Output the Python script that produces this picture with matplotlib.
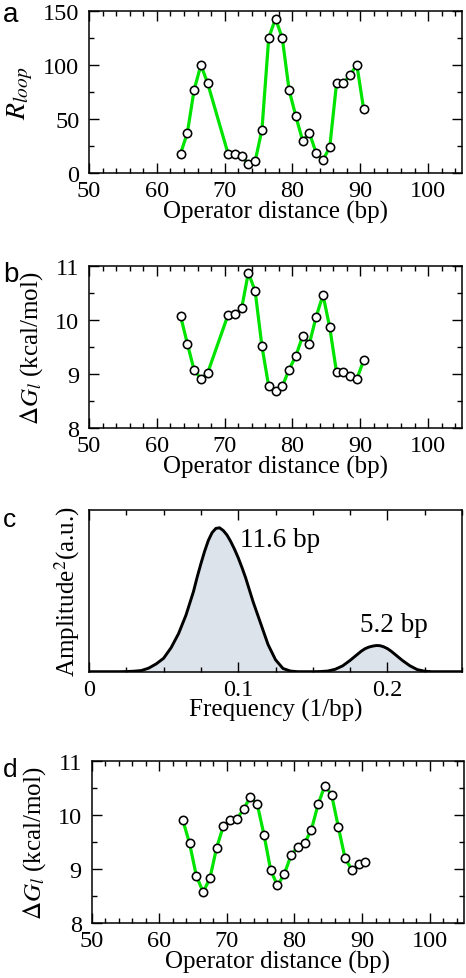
import matplotlib
matplotlib.use("Agg")
import matplotlib.pyplot as plt
from matplotlib.ticker import MultipleLocator, NullLocator, FuncFormatter

# ---------------- data ----------------
dist_a = [63.5, 64.5, 65.5, 66.5, 67.5, 70.5, 71.5, 72.5, 73.5, 74.5, 75.5, 76.5,
          77.5, 78.5, 79.5, 80.5, 81.5, 82.5, 83.5, 84.5, 85.5, 86.5, 87.5, 88.5,
          89.5, 90.5]
r_loop = [18, 37, 77, 100, 83, 18, 17.5, 15.5, 8.5, 11, 40, 125,
          143, 125, 77, 52.5, 30, 37, 18.5, 12, 24, 83, 83, 91,
          100, 59]
dg_b = [10.07, 9.56, 9.07, 8.91, 9.02, 10.09, 10.10, 10.21, 10.87, 10.53, 9.51, 8.77,
        8.68, 8.77, 9.08, 9.33, 9.70, 9.56, 10.06, 10.46, 9.86, 9.03, 9.03, 8.97,
        8.91, 9.25]

freq = [0.000, 0.005, 0.010, 0.015, 0.020, 0.025, 0.030, 0.035, 0.040, 0.045,
        0.050, 0.055, 0.060, 0.065, 0.070, 0.0725, 0.075, 0.0775, 0.080, 0.0825,
        0.085, 0.0875, 0.090, 0.0925, 0.095, 0.0975, 0.100, 0.1025, 0.105, 0.110,
        0.115, 0.120, 0.125, 0.130, 0.135, 0.140, 0.145, 0.150, 0.155, 0.160,
        0.165, 0.170, 0.175, 0.180, 0.1825, 0.185, 0.1875, 0.190, 0.1925, 0.195,
        0.1975, 0.200, 0.2025, 0.205, 0.210, 0.215, 0.220, 0.225, 0.230, 0.235,
        0.240, 0.245, 0.250]
amp2 = [0.0, 0.0, 0.0, 0.0, 0.0, 0.001, 0.003, 0.007, 0.022, 0.048,
        0.083, 0.148, 0.235, 0.350, 0.495, 0.585, 0.668, 0.745, 0.812, 0.860,
        0.886, 0.890, 0.873, 0.845, 0.805, 0.758, 0.705, 0.645, 0.580, 0.432,
        0.300, 0.168, 0.074, 0.020, 0.004, 0.0, 0.0, 0.0, 0.001, 0.004,
        0.015, 0.036, 0.070, 0.108, 0.127, 0.142, 0.152, 0.158, 0.162, 0.161,
        0.154, 0.143, 0.127, 0.108, 0.070, 0.037, 0.013, 0.003, 0.0, 0.0,
        0.0, 0.0, 0.0]
peak_labels = ["11.6 bp", "5.2 bp"]
peak_label_pos = [(0.101, 0.778), (0.1815, 0.249)]

dist_d = [63.5, 64.5, 65.5, 66.5, 67.5, 68.5, 69.5, 70.5, 71.5, 72.5, 73.5, 74.5,
          75.5, 76.5, 77.5, 78.5, 79.5, 80.5, 81.5, 82.5, 83.5, 84.5, 85.5, 86.5,
          87.5, 88.5, 89.5, 90.5]
dg_d = [9.91, 9.48, 8.88, 8.58, 8.83, 9.40, 9.80, 9.91, 9.93, 10.12, 10.34, 10.21,
        9.64, 8.98, 8.70, 8.91, 9.26, 9.42, 9.48, 9.73, 10.20, 10.55, 10.38, 9.78,
        9.20, 8.99, 9.09, 9.14]

# ---------------- style ----------------
plt.rcParams['font.family'] = ['Liberation Serif', 'DejaVu Serif']
plt.rcParams['mathtext.fontset'] = 'stix'
TFS = 17.5
LFS = 18
GREEN = '#00e400'

W, H = 466, 979
fig = plt.figure(figsize=(W / 100, H / 100), dpi=100)


def rect(l, t, r, b):
    return [l / W, (H - b) / H, (r - l) / W, (b - t) / H]


def style(ax, ticks_y=True):
    for s in ax.spines.values():
        s.set_linewidth(1.1)
    ax.tick_params(which='both', direction='in', top=True, right=ticks_y,
                   left=ticks_y, labelsize=TFS, width=1.0)
    ax.tick_params(axis='x', which='both', pad=5)
    ax.tick_params(axis='y', which='both', pad=7)
    ax.tick_params(which='major', length=7.2)
    ax.tick_params(which='minor', length=3.6)


def dist_panel(ax, x, y):
    ax.plot(x, y, '-', color=GREEN, lw=2.3, zorder=2)
    ax.plot(x, y, 'o', ms=6.0, mfc='white', mec='black', mew=1.15, zorder=3)
    ax.set_xlim(50, 105)
    ax.xaxis.set_major_locator(MultipleLocator(10))
    ax.xaxis.set_minor_locator(MultipleLocator(2))
    ax.set_xlabel('Operator distance (bp)', fontsize=LFS, labelpad=-1)
    style(ax)


# panel a
axa = fig.add_axes(rect(89, 12, 462, 174))
dist_panel(axa, dist_a, r_loop)
axa.set_ylim(0, 150)
axa.yaxis.set_major_locator(MultipleLocator(50))
axa.yaxis.set_minor_locator(MultipleLocator(25))
axa.set_ylabel(r'$R_{loop}$', fontsize=LFS + 2, labelpad=6)

# panel b
axb = fig.add_axes(rect(89, 266.7, 462, 429))
dist_panel(axb, dist_a, dg_b)
axb.set_ylim(8, 11)
axb.yaxis.set_major_locator(MultipleLocator(1))
axb.yaxis.set_minor_locator(MultipleLocator(0.5))
axb.set_ylabel(r'$\Delta G_{l}$ (kcal/mol)', fontsize=LFS, labelpad=7)

# panel c
axc = fig.add_axes(rect(89, 511, 462, 672.7))
axc.fill_between(freq, amp2, 0, color='#dce3eb', lw=0, zorder=1)
axc.plot(freq, amp2, '-', color='black', lw=2.1, zorder=2, solid_joinstyle='round')
axc.set_xlim(0, 0.25)
axc.set_ylim(0, 1)
axc.xaxis.set_major_locator(MultipleLocator(0.1))
axc.xaxis.set_minor_locator(MultipleLocator(0.025))
axc.xaxis.set_major_formatter(FuncFormatter(
    lambda v, p: '0' if abs(v) < 1e-9 else f'{v:.1f}'))
axc.yaxis.set_major_locator(NullLocator())
axc.yaxis.set_minor_locator(NullLocator())
style(axc, ticks_y=False)
axc.set_xlabel('Frequency (1/bp)', fontsize=LFS, labelpad=-1)
axc.set_ylabel(r'Amplitude$^{\mathrm{2}}$(a.u.)', fontsize=LFS, labelpad=5)
for lab, (px, py) in zip(peak_labels, peak_label_pos):
    axc.text(px, py, lab, fontsize=19.5, ha='left', va='baseline')

# panel d
axd = fig.add_axes(rect(91.5, 762.3, 463.5, 924.3))
dist_panel(axd, dist_d, dg_d)
axd.set_ylim(8, 11)
axd.yaxis.set_major_locator(MultipleLocator(1))
axd.yaxis.set_minor_locator(MultipleLocator(0.5))
axd.set_ylabel(r'$\Delta G_{l}$ (kcal/mol)', fontsize=LFS, labelpad=7)

# panel letters
for letter, base, size in [('a', 21.7, 20), ('b', 281.7, 20), ('c', 527, 19), ('d', 777, 19)]:
    fig.text(3 / W, (H - base) / H, letter, fontsize=size, family='Liberation Sans',
             ha='left', va='baseline')

fig.savefig('out.png', dpi=100)
